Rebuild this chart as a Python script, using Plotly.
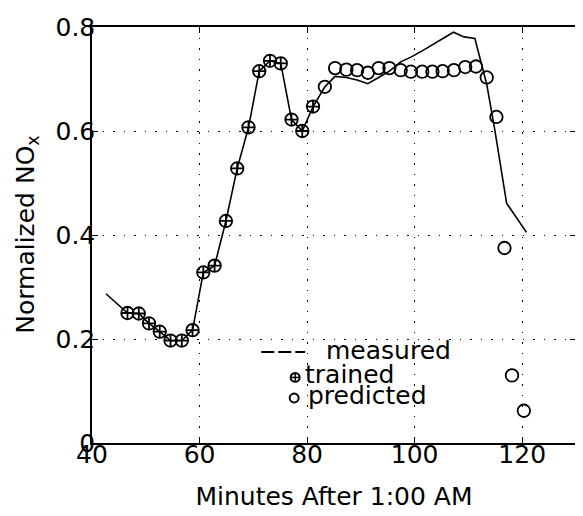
import plotly.graph_objects as go

# ---------------- data ----------------
trained_x = [46.6, 48.7, 50.6, 52.6, 54.6, 56.7, 58.7, 60.7, 62.8, 64.9,
             67.0, 69.1, 71.1, 73.1, 75.1, 77.1, 79.1, 81.1]
trained_y = [0.250, 0.249, 0.230, 0.214, 0.197, 0.197, 0.217, 0.328, 0.341, 0.427,
             0.528, 0.607, 0.715, 0.735, 0.730, 0.622, 0.600, 0.647]

predicted_x = [83.3, 85.2, 87.3, 89.3, 91.3, 93.3, 95.3, 97.4, 99.3, 101.4,
               103.3, 105.2, 107.3, 109.4, 111.4, 113.4, 115.2, 116.7, 118.1, 120.3]
predicted_y = [0.685, 0.721, 0.718, 0.717, 0.712, 0.721, 0.721, 0.717, 0.714, 0.714,
               0.714, 0.715, 0.717, 0.723, 0.724, 0.703, 0.627, 0.375, 0.130, 0.062]

measured_x = [42.6, 44.6] + trained_x + [83.3, 85.2, 87.3, 89.3, 91.3, 93.3, 95.3, 97.4,
                                         99.3, 101.4, 103.3, 105.2, 107.2, 109.2, 111.2,
                                         113.4, 114.9, 117.1, 120.8]
measured_y = [0.287, 0.268] + trained_y + [0.685, 0.705, 0.703, 0.698, 0.691, 0.703, 0.715,
                                           0.733, 0.742, 0.754, 0.766, 0.778, 0.790, 0.781,
                                           0.778, 0.690, 0.602, 0.461, 0.405]

x_ticks = [40, 60, 80, 100, 120]
y_ticks = [0, 0.2, 0.4, 0.6, 0.8]
y_tick_labels = ["0", "0.2", "0.4", "0.6", "0.8"]

x_title = "Minutes After 1:00 AM"
y_title = "Normalized NO<sub>x</sub>"
legend_labels = ["measured", "trained", "predicted"]

# ---------------- layout constants ----------------
# the page body has an 8px margin, so the figure is made 8px smaller
OFF = 8
W, H = 583 - OFF, 516 - OFF
L, R, T, B = 92 - OFF, 5, 18 - OFF, 73
PW, PH = W - L - R, H - T - B
FONT = "DejaVu Sans"
FS = 25


def px2paper(px, py):
    """page pixel -> paper coordinates"""
    px -= OFF
    py -= OFF
    return (px - L) / PW, (H - B - py) / PH


fig = go.Figure()

fig.add_trace(go.Scatter(
    x=measured_x, y=measured_y, mode="lines",
    line=dict(color="black", width=1.6), showlegend=False, name="measured"))

fig.add_trace(go.Scatter(
    x=trained_x, y=trained_y, mode="markers",
    marker=dict(symbol="circle-cross-open", size=12.5, color="black",
                line=dict(color="black", width=1.8)),
    showlegend=False, name="trained"))

fig.add_trace(go.Scatter(
    x=predicted_x, y=predicted_y, mode="markers",
    marker=dict(symbol="circle-open", size=12.5, color="black",
                line=dict(color="black", width=1.8)),
    showlegend=False, name="predicted"))

# ---------------- custom legend ----------------
shapes = []
annotations = []

# measured line sample
x0, y0 = px2paper(262, 350)
x1, _ = px2paper(306, 350)
shapes.append(dict(type="line", xref="paper", yref="paper", x0=x0, x1=x1, y0=y0, y1=y0,
                   line=dict(color="black", width=2, dash="13px,4px")))

# trained symbol (circle with cross)
r = 4.5
cx, cy = 296, 376
a0, b0 = px2paper(cx - r, cy + r)
a1, b1 = px2paper(cx + r, cy - r)
shapes.append(dict(type="circle", xref="paper", yref="paper", x0=a0, x1=a1, y0=b0, y1=b1,
                   line=dict(color="black", width=2)))
a0, b0 = px2paper(cx - r, cy)
a1, _ = px2paper(cx + r, cy)
shapes.append(dict(type="line", xref="paper", yref="paper", x0=a0, x1=a1, y0=b0, y1=b0,
                   line=dict(color="black", width=1.5)))
a0, b0 = px2paper(cx, cy - r)
_, b1 = px2paper(cx, cy + r)
shapes.append(dict(type="line", xref="paper", yref="paper", x0=a0, x1=a0, y0=b0, y1=b1,
                   line=dict(color="black", width=1.5)))

# predicted symbol (open circle)
cx, cy = 295, 397
a0, b0 = px2paper(cx - r, cy + r)
a1, b1 = px2paper(cx + r, cy - r)
shapes.append(dict(type="circle", xref="paper", yref="paper", x0=a0, x1=a1, y0=b0, y1=b1,
                   line=dict(color="black", width=2)))

text_pos = [(325, 349), (304, 373), (307, 394)]
for lab, (tx, ty) in zip(legend_labels, text_pos):
    ax, ay = px2paper(tx, ty)
    annotations.append(dict(text=lab, x=ax, y=ay, xref="paper", yref="paper",
                            xanchor="left", yanchor="middle", showarrow=False,
                            font=dict(family=FONT, size=FS, color="black")))

# y-axis title as a rotated annotation
ax, ay = px2paper(26, 230)
annotations.append(dict(text=y_title, x=ax, y=ay, xref="paper", yref="paper",
                        xanchor="center", yanchor="middle", textangle=-90,
                        showarrow=False,
                        font=dict(family=FONT, size=FS, color="black")))

axis_common = dict(
    showline=True, linecolor="black", linewidth=1.5, mirror="ticks",
    ticks="inside", ticklen=6, tickwidth=1.2, tickcolor="black",
    showgrid=True, gridcolor="black", gridwidth=1, griddash="1.5px,9px",
    zeroline=False, ticklabeloverflow="allow",
    tickfont=dict(family=FONT, size=FS, color="black"),
)

fig.update_layout(
    width=W, height=H,
    margin=dict(l=L, r=R, t=T, b=B),
    paper_bgcolor="white", plot_bgcolor="white",
    font=dict(family=FONT, size=FS, color="black"),
    xaxis=dict(range=[40, 130], tickvals=x_ticks, ticklabelstandoff=-12,
               title=dict(text=x_title, standoff=20,
                          font=dict(family=FONT, size=FS, color="black")),
               **axis_common),
    yaxis=dict(range=[0, 0.8], tickvals=y_ticks, ticktext=y_tick_labels,
               ticklabelstandoff=-10,
               **axis_common),
    shapes=shapes,
    annotations=annotations,
    showlegend=False,
)

fig.write_html("out.html")
